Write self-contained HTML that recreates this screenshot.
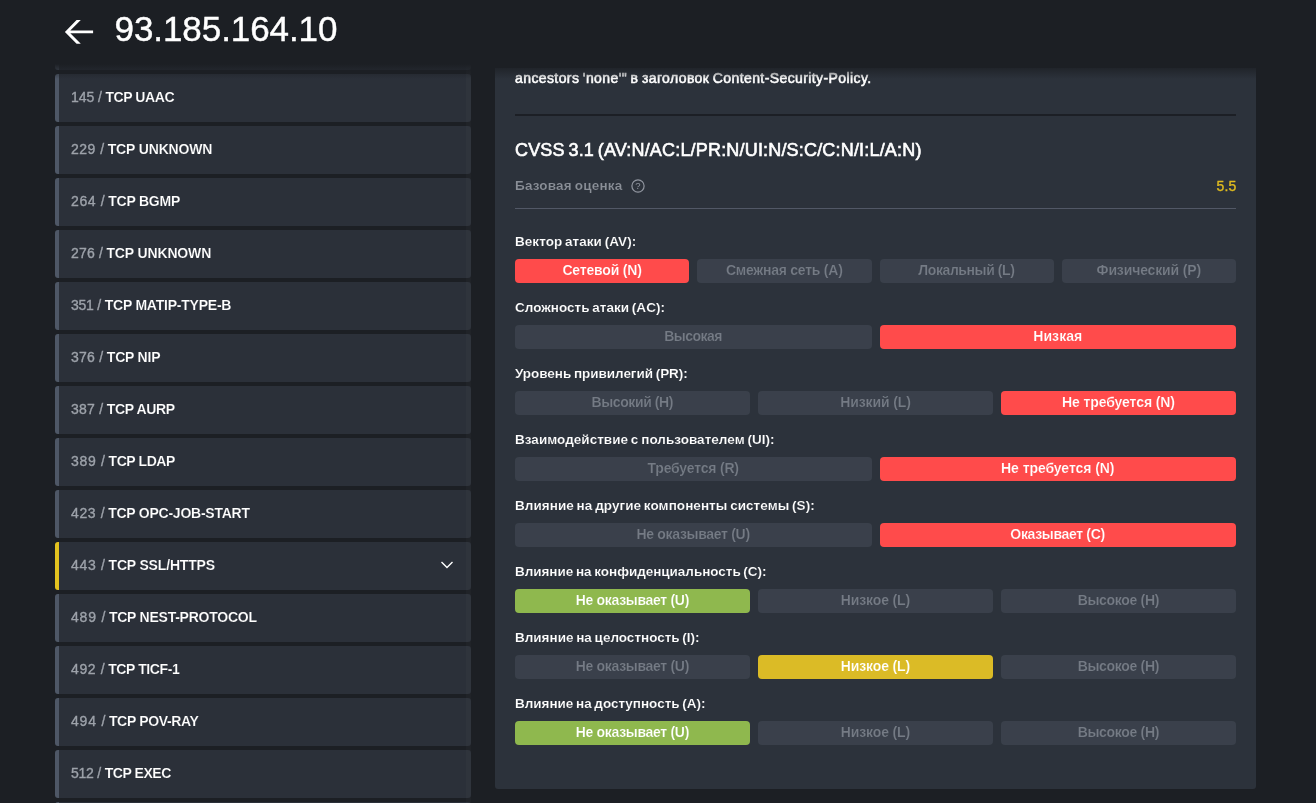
<!DOCTYPE html>
<html lang="ru"><head><meta charset="utf-8"><title>93.185.164.10</title>
<style>
*{box-sizing:border-box;margin:0;padding:0}
html,body{width:1316px;height:803px;overflow:hidden;background:#1c1f24}
body{position:relative;will-change:transform;font-family:"Liberation Sans",Arial,sans-serif;color:#fff}
.row{position:absolute;left:55px;width:416px;height:48px;background:#2b3039;border-left:4px solid #4e5766;border-radius:3px;
 line-height:47px;font-size:14px;white-space:nowrap;color:#9298a1}
.row b,.row span{position:absolute;top:0;white-space:pre}
.row b{color:#fff;font-weight:700;-webkit-text-stroke:0.15px #2b3039}
.row span{left:12px;color:#9da2aa;-webkit-text-stroke:0.35px #9da2aa}
.row.sel{border-left-color:#e3c21f}
.track{position:absolute;left:466px;top:0;width:5px;height:803px;background:rgba(255,255,255,0.02)}
.panel{position:absolute;left:495px;top:68px;width:761px;height:721px;background:#2c323b;border-radius:0 0 3px 3px}
.hdr{position:absolute;left:0;top:0;width:1316px;height:64px;background:#1c1f24}
.fade{position:absolute;left:0;top:64px;width:1316px;height:15px;background:linear-gradient(#1c1f24,rgba(28,31,36,0))}
.ip{position:absolute;left:114.6px;top:7.4px;font-size:35px;line-height:44px;color:#fff;white-space:nowrap;-webkit-text-stroke:0.4px #fff}
.t{position:absolute;white-space:nowrap}
.desc{left:515px;top:68px;font-size:14px;line-height:20px;color:#fff;-webkit-text-stroke:0.55px #fff;word-spacing:-0.8px}
.hr1{position:absolute;left:515px;top:114px;width:721px;height:2px;background:#1c1f25}
.hr2{position:absolute;left:515px;top:208px;width:721px;height:1px;background:#525866}
.title{left:515px;top:138px;font-size:18px;line-height:24px;color:#fff;-webkit-text-stroke:0.6px #fff;word-spacing:-1.5px}
.base{left:515px;top:176px;font-size:13.5px;line-height:20px;color:#8a8f97;font-weight:700;word-spacing:-1px;-webkit-text-stroke:0.15px #2c323b}
.score{right:80px;top:176px;font-size:14px;line-height:21px;color:#e0bc1f;letter-spacing:0.2px;margin-right:-0.6px;-webkit-text-stroke:0.35px #e0bc1f}
.lab{left:515px;font-size:13.5px;line-height:20px;color:#fff;font-weight:700;word-spacing:-1px;-webkit-text-stroke:0.15px #2c323b}
.btn{position:absolute;height:24px;border-radius:4px;background:#3a404b;color:#757b85;font-size:14px;line-height:23px;text-align:center;
 font-weight:700;white-space:nowrap;-webkit-text-stroke:0.18px #3a404b}
.btn.r{background:#ff4b4b;color:#fff;-webkit-text-stroke-color:#ff4b4b}
.btn.g{background:#8fb84e;color:#fff;-webkit-text-stroke-color:#8fb84e}
.btn.y{background:#dbbb26;color:#fff;-webkit-text-stroke-color:#dbbb26}
</style></head><body>

<div class="row" style="top:22px"><span style="letter-spacing:-0.085px">135 /</span><b style="left:46.40px;letter-spacing:0.090px">TCP LOC-SRV</b></div>
<div class="row" style="top:74px"><span style="letter-spacing:-0.085px">145 /</span><b style="left:46.40px;letter-spacing:-0.425px">TCP UAAC</b></div>
<div class="row" style="top:126px"><span style="letter-spacing:0.490px">229 /</span><b style="left:48.70px;letter-spacing:-0.150px">TCP UNKNOWN</b></div>
<div class="row" style="top:178px"><span style="letter-spacing:0.615px">264 /</span><b style="left:49.20px;letter-spacing:-0.220px">TCP BGMP</b></div>
<div class="row" style="top:230px"><span style="letter-spacing:0.165px">276 /</span><b style="left:47.40px;letter-spacing:-0.140px">TCP UNKNOWN</b></div>
<div class="row" style="top:282px"><span style="letter-spacing:-0.260px">351 /</span><b style="left:45.70px;letter-spacing:-0.224px">TCP MATIP-TYPE-B</b></div>
<div class="row" style="top:334px"><span style="letter-spacing:0.265px">376 /</span><b style="left:47.80px;letter-spacing:-0.214px">TCP NIP</b></div>
<div class="row" style="top:386px"><span style="letter-spacing:0.265px">387 /</span><b style="left:47.80px;letter-spacing:-0.371px">TCP AURP</b></div>
<div class="row" style="top:438px"><span style="letter-spacing:0.690px">389 /</span><b style="left:49.50px;letter-spacing:-0.407px">TCP LDAP</b></div>
<div class="row" style="top:490px"><span style="letter-spacing:0.615px">423 /</span><b style="left:49.20px;letter-spacing:-0.245px">TCP OPC-JOB-START</b></div>
<div class="row sel" style="top:542px"><span style="letter-spacing:0.690px">443 /</span><b style="left:49.50px;letter-spacing:-0.171px">TCP SSL/HTTPS</b><svg style="position:absolute;left:380px;top:14.2px" width="16" height="16" viewBox="0 0 16 16"><path d="M2.5 5.9 L8 11.4 L13.5 5.9" fill="none" stroke="#fff" stroke-width="1.4"/></svg></div>
<div class="row" style="top:594px"><span style="letter-spacing:0.790px">489 /</span><b style="left:49.90px;letter-spacing:-0.241px">TCP NEST-PROTOCOL</b></div>
<div class="row" style="top:646px"><span style="letter-spacing:0.615px">492 /</span><b style="left:49.20px;letter-spacing:-0.411px">TCP TICF-1</b></div>
<div class="row" style="top:698px"><span style="letter-spacing:0.790px">494 /</span><b style="left:49.90px;letter-spacing:-0.338px">TCP POV-RAY</b></div>
<div class="row" style="top:750px"><span style="letter-spacing:-0.260px">512 /</span><b style="left:45.70px;letter-spacing:-0.438px">TCP EXEC</b></div>
<div class="row" style="top:802px"><span style="letter-spacing:-0.260px">513 /</span><b style="left:45.70px;letter-spacing:0.200px">TCP LOGIN</b></div>
<div class="track"></div>
<div class="panel"></div>
<div class="t desc" style="letter-spacing:0.402px">ancestors 'none'" в заголовок Content-Security-Policy.</div>
<div class="hr1"></div>
<div class="t title" style="letter-spacing:0.185px">CVSS 3.1 (AV:N/AC:L/PR:N/UI:N/S:C/C:N/I:L/A:N)</div>
<div class="t base" style="letter-spacing:0.190px">Базовая оценка</div>
<svg style="position:absolute;left:629.5px;top:178.1px" width="16" height="16" viewBox="0 0 16 16"><circle cx="8" cy="8" r="6.1" fill="none" stroke="#9196a0" stroke-width="1.2"/><text x="8" y="11.2" text-anchor="middle" font-family="Liberation Sans, sans-serif" font-size="9.5" fill="#9196a0">?</text></svg>
<div class="t score">5.5</div>
<div class="hr2"></div>
<div class="t lab" style="top:232px;letter-spacing:0.049px">Вектор атаки (AV):</div>
<div class="btn r" style="left:515.00px;top:259px;width:174.25px;letter-spacing:-0.187px;text-indent:-0.187px">Сетевой (N)</div>
<div class="btn " style="left:697.25px;top:259px;width:174.25px;letter-spacing:-0.239px;text-indent:-0.239px">Смежная сеть (A)</div>
<div class="btn " style="left:879.50px;top:259px;width:174.25px;letter-spacing:-0.404px;text-indent:-0.404px">Локальный (L)</div>
<div class="btn " style="left:1061.75px;top:259px;width:174.25px;letter-spacing:-0.140px;text-indent:-0.140px">Физический (P)</div>
<div class="t lab" style="top:298px;letter-spacing:0.015px">Сложность атаки (AC):</div>
<div class="btn " style="left:515.00px;top:325px;width:356.50px;letter-spacing:-0.529px;text-indent:-0.529px">Высокая</div>
<div class="btn r" style="left:879.50px;top:325px;width:356.50px;letter-spacing:0.052px;text-indent:0.052px">Низкая</div>
<div class="t lab" style="top:364px;letter-spacing:-0.037px">Уровень привилегий (PR):</div>
<div class="btn " style="left:515.00px;top:391px;width:235.00px;letter-spacing:-0.405px;text-indent:-0.405px">Высокий (H)</div>
<div class="btn " style="left:758.00px;top:391px;width:235.00px;letter-spacing:-0.119px;text-indent:-0.119px">Низкий (L)</div>
<div class="btn r" style="left:1001.00px;top:391px;width:235.00px;letter-spacing:-0.095px;text-indent:-0.095px">Не требуется (N)</div>
<div class="t lab" style="top:430px;letter-spacing:0.036px">Взаимодействие с пользователем (UI):</div>
<div class="btn " style="left:515.00px;top:457px;width:356.50px;letter-spacing:-0.191px;text-indent:-0.191px">Требуется (R)</div>
<div class="btn r" style="left:879.50px;top:457px;width:356.50px;letter-spacing:-0.068px;text-indent:-0.068px">Не требуется (N)</div>
<div class="t lab" style="top:496px;letter-spacing:0.050px">Влияние на другие компоненты системы (S):</div>
<div class="btn " style="left:515.00px;top:523px;width:356.50px;letter-spacing:-0.308px;text-indent:-0.308px">Не оказывает (U)</div>
<div class="btn r" style="left:879.50px;top:523px;width:356.50px;letter-spacing:-0.330px;text-indent:-0.330px">Оказывает (C)</div>
<div class="t lab" style="top:562px;letter-spacing:-0.032px">Влияние на конфиденциальность (C):</div>
<div class="btn g" style="left:515.00px;top:589px;width:235.00px;letter-spacing:-0.308px;text-indent:-0.308px">Не оказывает (U)</div>
<div class="btn " style="left:758.00px;top:589px;width:235.00px;letter-spacing:-0.145px;text-indent:-0.145px">Низкое (L)</div>
<div class="btn " style="left:1001.00px;top:589px;width:235.00px;letter-spacing:-0.319px;text-indent:-0.319px">Высокое (H)</div>
<div class="t lab" style="top:628px;letter-spacing:-0.002px">Влияние на целостность (I):</div>
<div class="btn " style="left:515.00px;top:655px;width:235.00px;letter-spacing:-0.308px;text-indent:-0.308px">Не оказывает (U)</div>
<div class="btn y" style="left:758.00px;top:655px;width:235.00px;letter-spacing:-0.145px;text-indent:-0.145px">Низкое (L)</div>
<div class="btn " style="left:1001.00px;top:655px;width:235.00px;letter-spacing:-0.319px;text-indent:-0.319px">Высокое (H)</div>
<div class="t lab" style="top:694px;letter-spacing:-0.024px">Влияние на доступность (A):</div>
<div class="btn g" style="left:515.00px;top:721px;width:235.00px;letter-spacing:-0.308px;text-indent:-0.308px">Не оказывает (U)</div>
<div class="btn " style="left:758.00px;top:721px;width:235.00px;letter-spacing:-0.145px;text-indent:-0.145px">Низкое (L)</div>
<div class="btn " style="left:1001.00px;top:721px;width:235.00px;letter-spacing:-0.319px;text-indent:-0.319px">Высокое (H)</div>
<div class="hdr"></div><div class="fade"></div>
<svg style="position:absolute;left:60px;top:14px" width="40" height="36" viewBox="60 14 40 36"><path d="M64.9 31.9 L76.6 20 L80.8 20 L70.3 30.5 L93.1 30.5 L93.1 33.3 L70.3 33.3 L80.8 43.8 L76.6 43.8 Z" fill="#fff"/></svg>
<div class="ip" style="letter-spacing:-0.086px">93.185.164.10</div>
</body></html>
